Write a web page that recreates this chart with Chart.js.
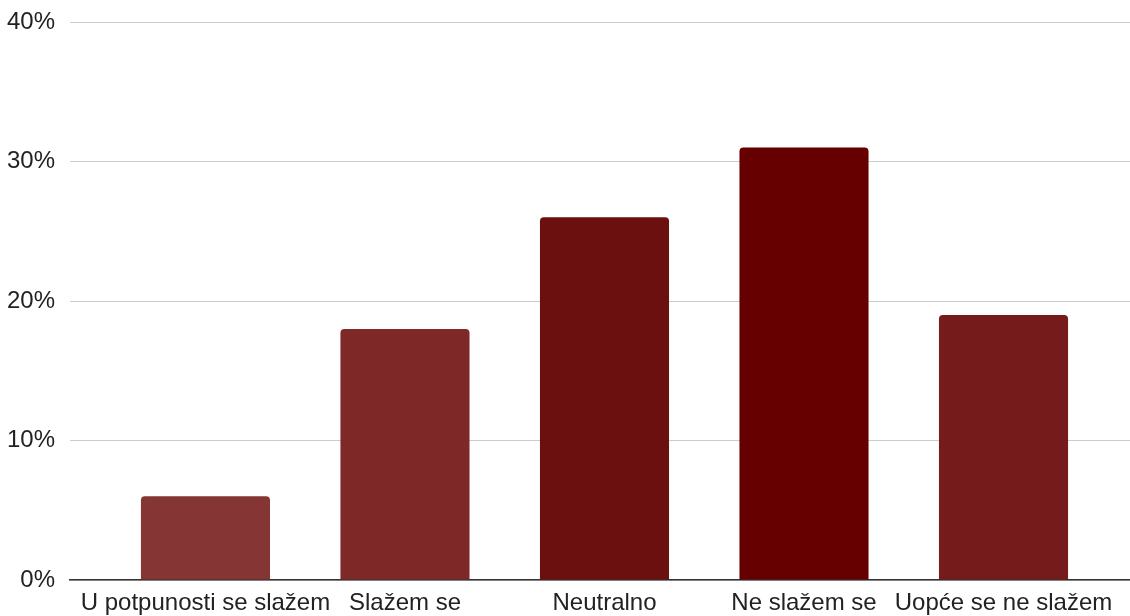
<!DOCTYPE html>
<html>
<head>
<meta charset="utf-8">
<script src="https://cdn.jsdelivr.net/npm/chart.js@4/dist/chart.umd.min.js"></script>
<style>
	html, body { margin: 0; padding: 0; background: #fff; }
	#wrap { position: relative; width: 1130px; height: 616px; }
</style>
</head>
<body>
<div id="wrap"><canvas id="chart"></canvas></div>
<script>
(function () {
	'use strict';

	// Answers (Croatian Likert scale) and share of respondents, in %.
	var CATEGORIES = ['U potpunosti se slažem', 'Slažem se', 'Neutralno', 'Ne slažem se', 'Uopće se ne slažem'];
	var VALUES = [6, 18, 26, 31, 19];
	var BAR_COLORS = ['#863535', '#7e2828', '#6c0f0f', '#660000', '#761b1b'];
	var Y_TICKS = [0, 10, 20, 30, 40];

	var FONT = '"Liberation Sans", Arial, sans-serif';

	var points = VALUES.map(function (v, i) { return { x: i, y: v }; });

	new Chart(document.getElementById('chart'), {
		type: 'bar',
		data: {
			datasets: [{
				data: points,
				backgroundColor: BAR_COLORS,
				borderRadius: { topLeft: 4, topRight: 4, bottomLeft: 0, bottomRight: 0 },
				borderSkipped: 'bottom',
				barPercentage: 0.647,
				categoryPercentage: 1
			}]
		},
		options: {
			responsive: true,
			maintainAspectRatio: false,
			animation: false,
			layout: { padding: { top: 22, right: 0, bottom: 0, left: 6 } },
			plugins: { legend: { display: false }, tooltip: { enabled: false } },
			scales: {
				x: {
					type: 'linear',
					offset: false,
					min: -0.679,
					max: 4.634,
					afterBuildTicks: function (axis) {
						axis.ticks = CATEGORIES.map(function (c, i) { return { value: i }; });
					},
					afterFit: function (axis) {
						axis.height = 36;
						axis.paddingLeft = 0;
						axis.paddingRight = 0;
					},
					grid: { display: false, drawTicks: false },
					border: { display: true, color: '#333333', width: 1.5 },
					ticks: {
						autoSkip: false,
						maxRotation: 0,
						padding: 9,
						color: '#222222',
						font: { family: FONT, size: 24 },
						callback: function (v) { return CATEGORIES[v]; }
					}
				},
				y: {
					min: 0,
					max: 40,
					afterBuildTicks: function (axis) {
						axis.ticks = Y_TICKS.map(function (t) { return { value: t }; });
					},
					afterFit: function (axis) {
						axis.width = 64;
						axis.paddingTop = 0;
						axis.paddingBottom = 0;
					},
					grid: { color: '#cccccc', lineWidth: 1, drawTicks: false },
					border: { display: false },
					ticks: {
						padding: 15,
						color: '#222222',
						font: { family: FONT, size: 24 },
						callback: function (v) { return v + '%'; }
					}
				}
			}
		}
	});
})();
</script>
</body>
</html>
